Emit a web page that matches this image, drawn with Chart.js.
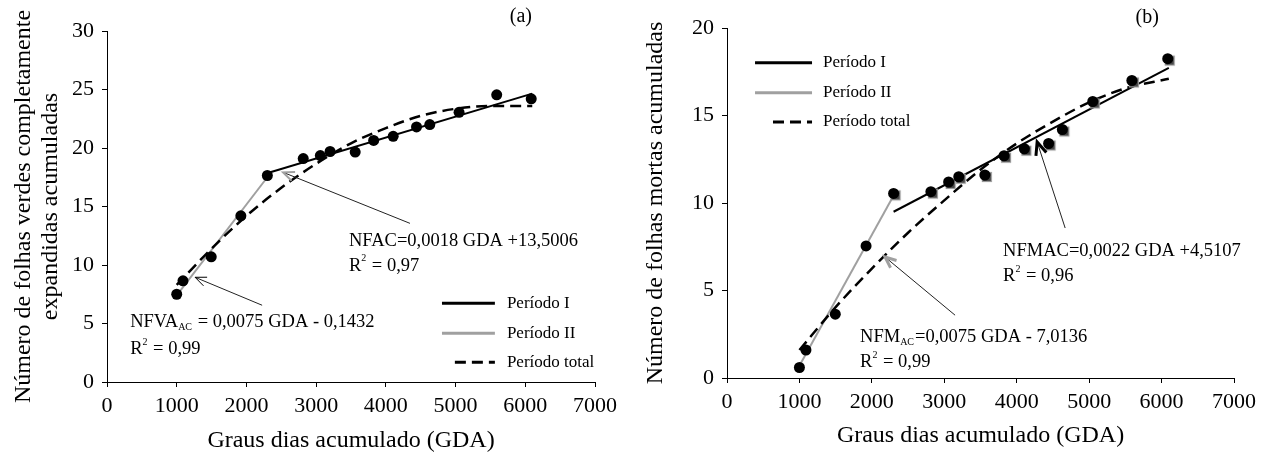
<!DOCTYPE html>
<html>
<head>
<meta charset="utf-8">
<script src="https://cdn.jsdelivr.net/npm/chart.js@4/dist/chart.umd.min.js"></script>
<style>
  body { margin: 0; background: #fff; }
  .painel { position: absolute; top: 0; }
</style>
</head>
<body>
<div class="painel" style="left:0"><canvas id="graficoA" width="640" height="455"></canvas></div>
<div class="painel" style="left:640px"><canvas id="graficoB" width="631" height="455"></canvas></div>
<script>
// graus dias acumulados de cada coleta
const gda = [1000, 1090, 1495, 1920, 2300, 2815, 3060, 3200, 3560, 3825, 4105, 4440, 4630, 5050, 5590, 6085];
// (a) folhas verdes completamente expandidas acumuladas
const folhasVerdes = [7.5, 8.65, 10.7, 14.2, 17.65, 19.1, 19.35, 19.7, 19.65, 20.65, 21.0, 21.8, 22.0, 23.05, 24.55, 24.2];
// (b) folhas mortas acumuladas
const folhasMortas = [0.6, 1.6, 3.65, 7.55, 10.55, 10.65, 11.2, 11.5, 11.6, 12.7, 13.1, 13.4, 14.2, 15.8, 17.0, 18.25];

// retas ajustadas
const gdaPeriodoI = [2330, 6100];
const verdesPeriodoI = [17.9, 24.65];
const gdaPeriodoII = [1000, 2300];
const verdesPeriodoII = [7.4, 17.5];
const gdaMortasPeriodoI = [2300, 6100];
const mortasPeriodoI = [9.5, 17.72];
const gdaMortasPeriodoII = [1000, 2310];
const mortasPeriodoII = [0.7, 10.5];

// curvas do periodo total
const gdaTotal = [1000, 1500, 2000, 2500, 3000, 3500, 4000, 4500, 5000, 5500, 6100];
const verdesTotal = [8.3, 11.4, 14.2, 16.6, 18.65, 20.4, 21.7, 22.75, 23.35, 23.6, 23.6];
const mortasTotal = [1.6, 4.05, 6.25, 8.3, 10.15, 11.9, 13.4, 14.65, 15.75, 16.55, 17.1];

const xTicks = [0, 1000, 2000, 3000, 4000, 5000, 6000, 7000];

const FONTE = '"Liberation Serif", "Times New Roman", serif';
const CINZA = '#a0a0a0';

const pares = (xs, ys) => xs.map((v, i) => ({ x: v, y: ys[i] }));

function marcadorQuadrado() {
    const c = document.createElement('canvas');
    c.width = 20; c.height = 20;
    const g = c.getContext('2d');
    g.fillStyle = '#444';
    g.strokeStyle = '#999';
    g.lineWidth = 1.2;
    g.fillRect(7.5, 7.5, 9, 9);
    g.strokeRect(7.5, 7.5, 9, 9);
    return c;
}

function textoRico(ctx, x, y, partes) {
    let cx = x;
    partes.forEach(([t, tipo]) => {
        const tam = tipo ? 10 : 18.5;
        ctx.font = tam + 'px ' + FONTE;
        const dy = tipo === 'sub' ? 5 : (tipo === 'sup' ? -7 : 0);
        ctx.fillText(t, cx, y + dy);
        cx += ctx.measureText(t).width + (tipo ? 1 : 0);
    });
}

const anotacoes = {
    id: 'anotacoes',
    afterDraw(chart, args, opts) {
        const { ctx } = chart;
        const sx = chart.scales.x, sy = chart.scales.y;
        const px = v => sx.getPixelForValue(v);
        const py = v => sy.getPixelForValue(v);
        ctx.save();
        // setas
        opts.setas.forEach(s => {
            const x0 = px(s.de[0]), y0 = py(s.de[1]);
            const x1 = px(s.para[0]), y1 = py(s.para[1]);
            ctx.strokeStyle = '#222';
            ctx.lineWidth = 1;
            ctx.beginPath();
            ctx.moveTo(x0, y0);
            ctx.lineTo(x1, y1);
            ctx.stroke();
            const ang = Math.atan2(y1 - y0, x1 - x0);
            const a = 0.4, L = s.tam;
            ctx.strokeStyle = s.cor;
            ctx.lineWidth = s.largura;
            ctx.beginPath();
            ctx.moveTo(x1 - L * Math.cos(ang - a), y1 - L * Math.sin(ang - a));
            ctx.lineTo(x1, y1);
            ctx.lineTo(x1 - L * Math.cos(ang + a), y1 - L * Math.sin(ang + a));
            ctx.stroke();
        });
        // textos
        ctx.fillStyle = '#000';
        ctx.textBaseline = 'middle';
        ctx.textAlign = 'left';
        opts.textos.forEach(t => textoRico(ctx, px(t.x), py(t.y), t.partes));
        // letra do painel
        ctx.font = '20px ' + FONTE;
        ctx.textAlign = 'center';
        ctx.fillText(opts.letra.texto, px(opts.letra.x), py(opts.letra.y));
        // legenda
        const lg = opts.legenda;
        ctx.textAlign = 'left';
        ctx.font = '17px ' + FONTE;
        lg.itens.forEach((it, i) => {
            const yy = py(lg.linhas[i]);
            ctx.strokeStyle = it.cor;
            ctx.lineWidth = 3;
            ctx.setLineDash(it.tracejado);
            ctx.beginPath();
            ctx.moveTo(px(it.tracejado.length ? lg.inicioTracejado : lg.inicio), yy);
            ctx.lineTo(px(lg.fim), yy);
            ctx.stroke();
            ctx.setLineDash([]);
            ctx.fillStyle = '#000';
            ctx.fillText(it.texto, px(lg.texto), yy);
        });
        ctx.restore();
    }
};

function escalas(yMax, tituloY, geo) {
    return {
        x: {
            type: 'linear', min: 0, max: 7000,
            afterFit: s => { s.height = geo.alturaX; },
            afterBuildTicks: s => { s.ticks = xTicks.map(v => ({ value: v })); },
            ticks: { padding: 6, color: '#000', font: { family: FONTE, size: 22 }, callback: v => String(v) },
            grid: { drawOnChartArea: false, drawTicks: true, tickLength: 5, color: '#000' },
            border: { color: '#000', width: 1 },
            title: {
                display: true, text: 'Graus dias acumulado (GDA)', color: '#000',
                font: { family: FONTE, size: 24, lineHeight: 1.2 },
                padding: { top: 0, bottom: geo.padTituloX }
            }
        },
        y: {
            type: 'linear', min: 0, max: yMax,
            afterFit: s => { s.width = geo.larguraY; },
            ticks: { stepSize: 5, padding: 8, color: '#000', font: { family: FONTE, size: 22 } },
            grid: { drawOnChartArea: false, drawTicks: true, tickLength: 5, color: '#000' },
            border: { color: '#000', width: 1 },
            title: {
                display: true, text: tituloY, color: '#000',
                font: { family: FONTE, size: 24, lineHeight: '27px' },
                padding: { top: geo.padTituloY, bottom: 0 }
            }
        }
    };
}

function conjuntos(pontos, retaI, retaII, total, comQuadrados) {
    const ds = [
        { data: pontos, pointStyle: 'circle', pointRadius: 5.5, pointBackgroundColor: '#000', pointBorderWidth: 0, order: 0 }
    ];
    if (comQuadrados) {
        ds.push({ data: pontos.slice(4), pointStyle: marcadorQuadrado(), pointRadius: 6, order: 1 });
    }
    ds.push(
        { data: retaI, showLine: true, borderColor: '#000', borderWidth: 2, pointRadius: 0, order: 3 },
        { data: retaII, showLine: true, borderColor: CINZA, borderWidth: 2, pointRadius: 0, order: 4 },
        { data: total, showLine: true, borderColor: '#000', borderWidth: 2.5, borderDash: [11, 6],
          cubicInterpolationMode: 'monotone', pointRadius: 0, order: 2 }
    );
    return ds;
}

const itensLegenda = [
    { texto: 'Período I', cor: '#000', tracejado: [] },
    { texto: 'Período II', cor: CINZA, tracejado: [] },
    { texto: 'Período total', cor: '#000', tracejado: [11, 6] }
];

new Chart(document.getElementById('graficoA'), {
    type: 'scatter',
    data: {
        datasets: conjuntos(pares(gda, folhasVerdes), pares(gdaPeriodoI, verdesPeriodoI),
            pares(gdaPeriodoII, verdesPeriodoII), pares(gdaTotal, verdesTotal), false)
    },
    options: {
        responsive: false, animation: false, devicePixelRatio: 1,
        layout: { padding: { left: 0, top: 31, right: 45, bottom: 0 } },
        scales: escalas(30, ['Número de folhas verdes completamente', 'expandidas acumuladas'],
            { alturaX: 73, larguraY: 107, padTituloX: 0, padTituloY: 10.5 }),
        plugins: {
            legend: { display: false },
            tooltip: { enabled: false },
            anotacoes: {
                setas: [
                    { de: [2225, 6.56], para: [1264, 8.95], cor: '#000', largura: 1, tam: 12 },
                    { de: [4346, 13.56], para: [2526, 17.92], cor: CINZA, largura: 2, tam: 12 }
                ],
                textos: [
                    { x: 332, y: 5.1, partes: [['NFVA'], ['AC', 'sub'], [' = 0,0075 GDA - 0,1432']] },
                    { x: 332, y: 2.8, partes: [['R'], ['2', 'sup'], [' = 0,99']] },
                    { x: 3470, y: 12.08, partes: [['NFAC=0,0018 GDA +13,5006']] },
                    { x: 3470, y: 9.94, partes: [['R'], ['2', 'sup'], [' = 0,97']] }
                ],
                letra: { texto: '(a)', x: 5937, y: 31.2 },
                legenda: { itens: itensLegenda, linhas: [6.73, 4.16, 1.68], inicio: 4805, inicioTracejado: 4990, fim: 5564, texto: 5736 }
            }
        }
    },
    plugins: [anotacoes]
});

new Chart(document.getElementById('graficoB'), {
    type: 'scatter',
    data: {
        datasets: conjuntos(pares(gda, folhasMortas), pares(gdaMortasPeriodoI, mortasPeriodoI),
            pares(gdaMortasPeriodoII, mortasPeriodoII), pares(gdaTotal, mortasTotal), true)
    },
    options: {
        responsive: false, animation: false, devicePixelRatio: 1,
        layout: { padding: { left: 0, top: 28, right: 37, bottom: 0 } },
        scales: escalas(20, 'Número de folhas mortas acumuladas',
            { alturaX: 77, larguraY: 87, padTituloX: 4.6, padTituloY: 2.5 }),
        plugins: {
            legend: { display: false },
            tooltip: { enabled: false },
            anotacoes: {
                setas: [
                    { de: [4669, 8.57], para: [4282, 13.49], cor: '#000', largura: 3, tam: 14 },
                    { de: [3149, 3.59], para: [2182, 6.91], cor: CINZA, largura: 3, tam: 12 }
                ],
                textos: [
                    { x: 3812, y: 7.24, partes: [['NFMAC=0,0022 GDA +4,5107']] },
                    { x: 3812, y: 5.81, partes: [['R'], ['2', 'sup'], [' = 0,96']] },
                    { x: 1837, y: 2.32, partes: [['NFM'], ['AC', 'sub'], ['=0,0075 GDA - 7,0136']] },
                    { x: 1837, y: 0.9, partes: [['R'], ['2', 'sup'], [' = 0,99']] }
                ],
                letra: { texto: '(b)', x: 5801, y: 20.6 },
                legenda: { itens: itensLegenda, linhas: [18.01, 16.3, 14.63], inicio: 387, inicioTracejado: 635, fim: 1174, texto: 1326 }
            }
        }
    },
    plugins: [anotacoes]
});
</script>
</body>
</html>
